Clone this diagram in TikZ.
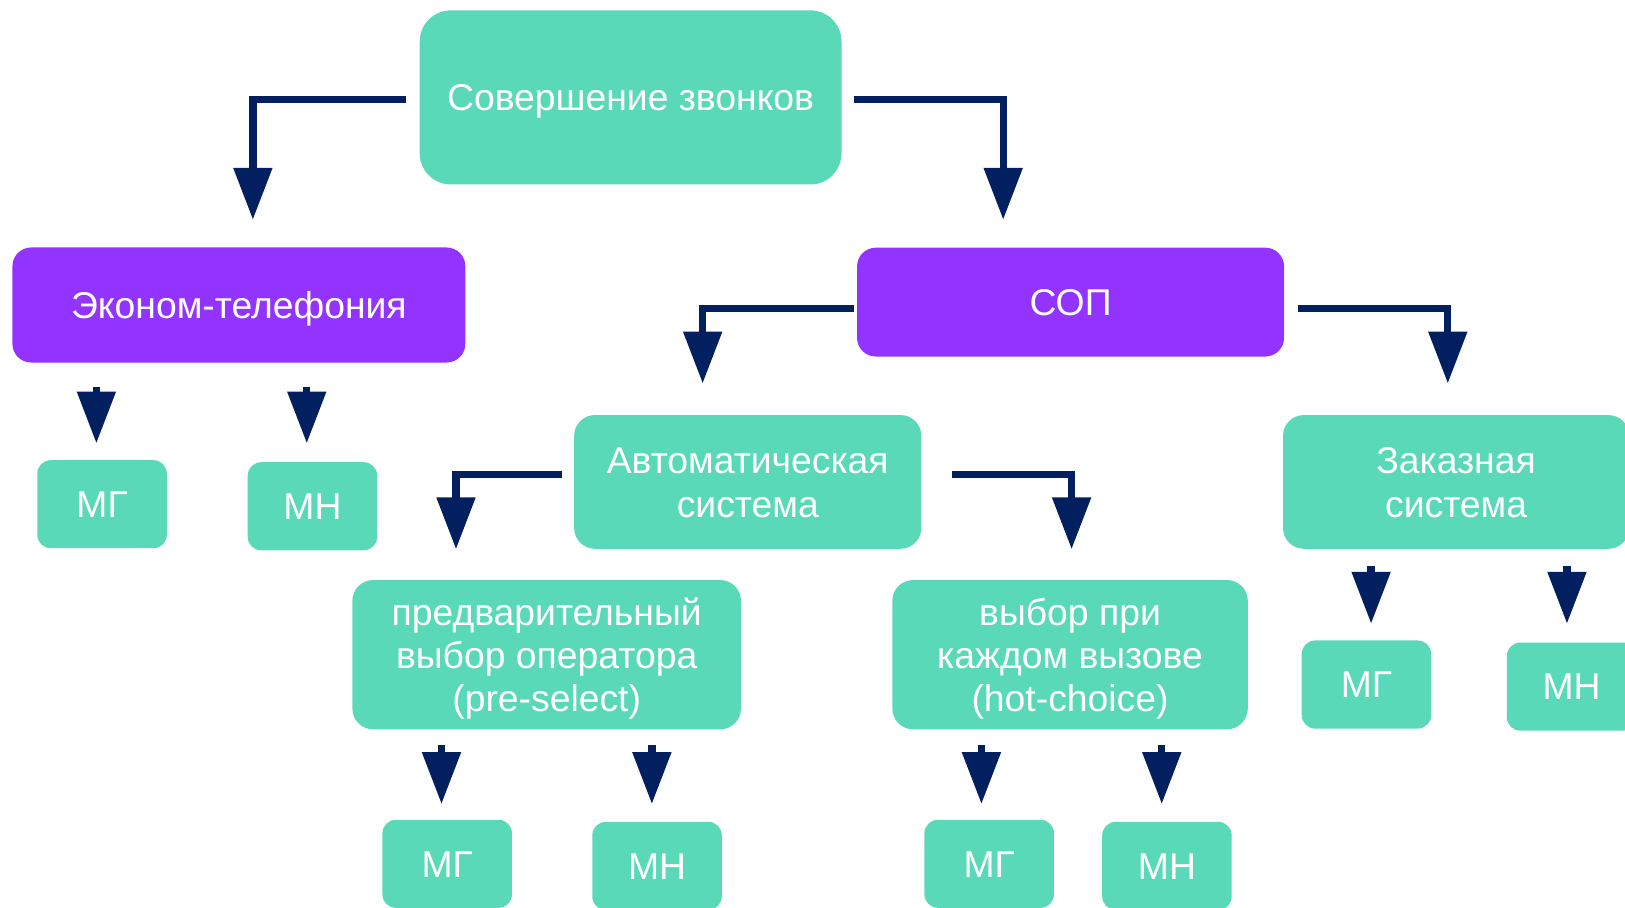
\documentclass[tikz,border=0pt]{standalone}
\usepackage{fontspec}
\setmainfont{Liberation Sans}
\usetikzlibrary{arrows.meta}
\definecolor{myteal}{HTML}{5AD9B8}
\definecolor{mypurple}{HTML}{9333FF}
\definecolor{mynavy}{HTML}{02205F}
% struts: cap centre of every line sits in the middle of its line box
\newcommand\sA{\rule[-8.6pt]{0pt}{43pt}}
\newcommand\sB{\rule[-7.85pt]{0pt}{41.5pt}}
\tikzset{
  box/.style={rectangle, draw=none, fill=myteal, text=white, align=center, inner sep=0pt, rounded corners=20pt, font=\fontsize{36}{43}\selectfont},
  tightbox/.style={box, font=\fontsize{36}{41.5}\selectfont},
  pbox/.style={box, fill=mypurple, rounded corners=18pt},
  smallbox/.style={box, rounded corners=13pt, minimum width=125pt, minimum height=85pt},
  conn/.style={draw=mynavy, line width=7pt, -{Triangle[length=50pt,width=36pt]}}
}
\begin{document}
\begin{tikzpicture}[x=1pt,y=1pt]
\useasboundingbox (0,0) rectangle (1568,-876);
\clip (0,0) rectangle (1568,-876);
% nodes
\node[box, rounded corners=30pt, minimum width=407pt, minimum height=168pt] (top) at (608.5,-94) {\sA Совершение звонков};
\node[pbox, minimum width=437pt, minimum height=111pt] (eco) at (230.5,-294.3) {\sA Эконом-телефония};
\node[pbox, minimum width=412pt, minimum height=105pt] (sop) at (1033,-291.5) {\sA СОП};
\node[smallbox] (mg1) at (98.5,-486.5) {\sA МГ};
\node[smallbox] (mn1) at (301.5,-488.5) {\sA МН};
\node[box, minimum width=335pt, minimum height=129pt] (auto) at (721.5,-465) {\sA Автоматическая\\\sA система};
\node[box, minimum width=334pt, minimum height=129pt] (zak) at (1405,-465) {\sA Заказная\\\sA система};
\node[tightbox, minimum width=375pt, minimum height=144pt] (pre) at (527.5,-631.7) {\sB предварительный\\\sB выбор оператора\\\sB (pre-select)};
\node[tightbox, minimum width=343pt, minimum height=144pt] (hot) at (1032.5,-631.7) {\sB выбор при\\\sB каждом вызове\\\sB (hot-choice)};
\node[smallbox] (mg3) at (1318.5,-660.5) {\sA МГ};
\node[smallbox] (mn3) at (1516.5,-662.5) {\sA МН};
\node[smallbox] (mg2) at (431.5,-833.5) {\sA МГ};
\node[smallbox] (mn2) at (634,-835.5) {\sA МН};
\node[smallbox] (mg4) at (954.5,-833.5) {\sA МГ};
\node[smallbox] (mn4) at (1126,-835.5) {\sA МН};
% tips of elbow connectors
\coordinate (t1) at (244,-212);
\coordinate (t2) at (968,-212);
\coordinate (t3) at (678,-370);
\coordinate (t4) at (1397,-370);
\coordinate (t5) at (440,-530);
\coordinate (t6) at (1034,-530);
% elbow connectors
\draw[conn, shorten <=13pt] ([yshift=-2pt]top.west) -| (t1);
\draw[conn, shorten <=12pt] ([yshift=-2pt]top.east) -| (t2);
\draw[conn, shorten <=3pt] ([yshift=-6.5pt]sop.west) -| (t3);
\draw[conn, shorten <=13pt] ([yshift=-6.5pt]sop.east) -| (t4);
\draw[conn, shorten <=12pt] ([yshift=7pt]auto.west) -| (t5);
\draw[conn, shorten <=29pt] ([yshift=7pt]auto.east) -| (t6);
% short connectors
\draw[conn, shorten <=23pt, shorten >=16pt] ([xshift=-5.5pt]mg1.north |- eco.south) -- ([xshift=-5.5pt]mg1.north);
\draw[conn, shorten <=23pt, shorten >=18pt] ([xshift=-5.5pt]mn1.north |- eco.south) -- ([xshift=-5.5pt]mn1.north);
\draw[conn, shorten <=16pt, shorten >=16pt] ([xshift=4.5pt]mg3.north |- zak.south) -- ([xshift=4.5pt]mg3.north);
\draw[conn, shorten <=16pt, shorten >=18pt] ([xshift=-4.5pt]mn3.north |- zak.south) -- ([xshift=-4.5pt]mn3.north);
\draw[conn, shorten <=15pt, shorten >=15pt] ([xshift=-5.5pt]mg2.north |- pre.south) -- ([xshift=-5.5pt]mg2.north);
\draw[conn, shorten <=15pt, shorten >=17pt] ([xshift=-5pt]mn2.north |- pre.south) -- ([xshift=-5pt]mn2.north);
\draw[conn, shorten <=15pt, shorten >=15pt] ([xshift=-7.5pt]mg4.north |- hot.south) -- ([xshift=-7.5pt]mg4.north);
\draw[conn, shorten <=15pt, shorten >=17pt] ([xshift=-5pt]mn4.north |- hot.south) -- ([xshift=-5pt]mn4.north);
\end{tikzpicture}
\end{document}
